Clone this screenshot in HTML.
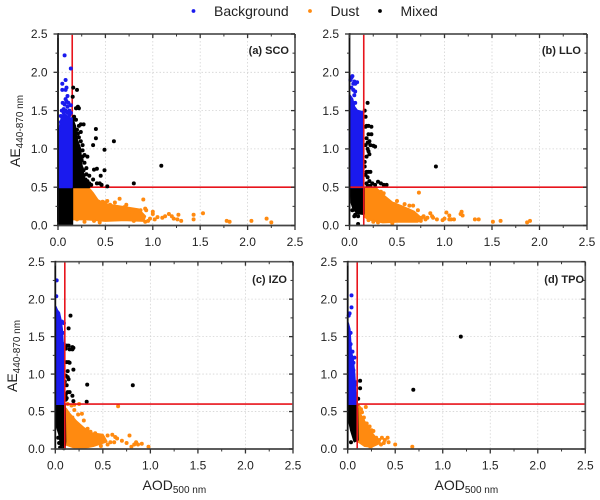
<!DOCTYPE html>
<html>
<head>
<meta charset="utf-8">
<title>AE vs AOD scatter panels</title>
<style>
html,body{margin:0;padding:0;background:#fff;}
#chart{display:block;width:600px;height:500px;font-family:"Liberation Sans",sans-serif;}
</style>
</head>
<body>
<svg id="chart" xmlns="http://www.w3.org/2000/svg" width="600" height="500" viewBox="0 0 600 500">
  <g font-size="14" fill="#222">
    <circle cx="193.5" cy="11" r="1.9" fill="#1a1aee"/>
    <text x="214" y="16">Background</text>
    <circle cx="310" cy="11" r="1.9" fill="#ff8a10"/>
    <text x="330.5" y="16">Dust</text>
    <circle cx="380" cy="11" r="1.9" fill="#000"/>
    <text x="400.5" y="16">Mixed</text>
  </g>
  <text transform="translate(20,167) rotate(-90)" font-size="14" fill="#222">AE<tspan font-size="10" dy="3">440-870 nm</tspan></text>
  <text transform="translate(17,392) rotate(-90)" font-size="14" fill="#222">AE<tspan font-size="10" dy="3">440-870 nm</tspan></text>
  <text x="142.5" y="490" font-size="14" fill="#222">AOD<tspan font-size="10" dy="3">500 nm</tspan></text>
  <text x="434.5" y="490" font-size="14" fill="#222">AOD<tspan font-size="10" dy="3">500 nm</tspan></text>
  <g id="panels"></g>
</svg>
<script>
const tickLabels = ["0.0","0.5","1.0","1.5","2.0","2.5"];
const majorTicks = [0,0.5,1,1.5,2,2.5];
const minorTicks = [0.25,0.75,1.25,1.75,2.25];
const axisMax = 2.5;

const scoThresholds = [0.15,0.5];
const scoBackgroundCloud = [[0.005,0.5],[0.005,1.15],[0.02,1.3],[0.04,1.42],[0.07,1.45],[0.1,1.42],[0.13,1.4],[0.146,1.4],[0.146,0.5]];
const scoBackgroundPoints = [[0.07,2.22],[0.135,2.05],[0.045,1.85],[0.08,1.9],[0.045,1.77],[0.08,1.77],[0.09,1.8],[0.1,1.69],[0.08,1.65],[0.05,1.6],[0.07,1.58],[0.09,1.62],[0.11,1.6],[0.135,1.57],[0.04,1.5],[0.06,1.52],[0.1,1.55],[0.12,1.5],[0.135,1.47],[0.08,1.5],[0.03,1.35],[0.015,1.25],[0.06,1.47],[0.1,1.47],[0.03,1.43],[0.12,1.44]];
const scoMixedCloud = [[0.15,0.5],[0.15,1.4],[0.18,1.3],[0.2,1.12],[0.235,1.0],[0.245,0.82],[0.28,0.6],[0.33,0.5],[0.15,0.5],[0,0.5],[0,0.06],[0.02,0.01],[0.15,0.01]];
const scoMixedPoints = [[0.16,1.8],[0.2,1.77],[0.155,1.68],[0.19,1.53],[0.21,1.55],[0.22,1.53],[0.17,1.42],[0.16,1.38],[0.27,1.32],[0.24,1.32],[0.22,1.3],[0.4,1.26],[0.4,1.14],[0.37,1.05],[0.49,0.99],[0.59,1.1],[1.09,0.78],[0.49,0.72],[0.8,0.55],[0.52,0.51],[0.45,0.65],[0.41,0.74],[0.38,0.73],[0.37,0.6],[0.44,0.55],[0.41,0.55],[0.46,0.53],[0.33,0.65],[0.31,0.9],[0.28,0.92],[0.25,0.75],[0.3,0.75],[0.33,0.55],[0.3,0.67],[0.27,0.72],[0.24,1.1],[0.21,1.2],[0.22,1.15],[0.26,1.05],[0.26,0.98],[0.25,0.85],[0.29,0.6],[0.35,0.53],[0.24,1.22],[0.2,1.25],[0.19,1.38],[0.28,0.82],[0.27,0.65],[0.31,0.58],[0.26,0.9]];
const scoDustCloud = [[0.155,0.49],[0.33,0.48],[0.37,0.42],[0.42,0.33],[0.5,0.28],[0.7,0.24],[0.85,0.21],[0.92,0.12],[0.9,0.06],[0.7,0.07],[0.5,0.06],[0.3,0.08],[0.155,0.08]];
const scoDustPoints = [[1.43,0.14],[1.43,0.08],[1.53,0.16],[1.78,0.06],[1.81,0.05],[2.04,0.06],[2.2,0.09],[2.25,0.04],[1.3,0.06],[1.27,0.14],[1.26,0.08],[1.2,0.12],[1.17,0.15],[1.13,0.12],[1.1,0.1],[1.05,0.11],[1.0,0.18],[1.0,0.15],[1.02,0.08],[0.97,0.09],[0.93,0.2],[0.92,0.22],[0.9,0.34],[0.95,0.06],[0.92,0.05],[0.88,0.1],[0.87,0.2],[0.84,0.17],[0.82,0.2],[0.78,0.14],[0.75,0.2],[0.72,0.27],[0.65,0.35],[0.6,0.3],[0.62,0.24],[0.55,0.27],[0.52,0.32],[0.5,0.3],[0.47,0.31],[0.7,0.24],[0.44,0.04],[0.28,0.05],[0.38,0.06],[0.2,0.08],[1.22,0.09],[0.8,0.06],[0.9,0.1],[0.78,0.08]];

const lloThresholds = [0.15,0.5];
const lloBackgroundCloud = [[0.003,0.5],[0.003,1.7],[0.03,1.65],[0.05,1.55],[0.08,1.5],[0.14,1.48],[0.146,1.45],[0.146,0.5]];
const lloBackgroundPoints = [[0.02,1.93],[0.03,1.95],[0.01,1.9],[0.04,1.85],[0.05,1.88],[0.08,1.87],[0.06,1.85],[0.04,1.77],[0.06,1.75],[0.05,1.7],[0.02,1.8],[0.06,1.6]];
const lloMixedCloud = [[0.01,0.5],[0.15,0.5],[0.15,0.15],[0.08,0.16],[0.04,0.22],[0.02,0.3]];
const lloMixedPoints = [[0.16,1.5],[0.19,1.6],[0.17,1.42],[0.18,1.3],[0.17,1.29],[0.23,1.29],[0.2,1.3],[0.2,1.19],[0.23,1.19],[0.18,1.14],[0.21,1.1],[0.22,1.05],[0.25,1.04],[0.27,1.03],[0.19,1.0],[0.2,0.97],[0.18,0.9],[0.16,0.83],[0.16,0.77],[0.18,0.7],[0.2,0.7],[0.22,0.7],[0.19,0.63],[0.21,0.58],[0.18,0.55],[0.24,0.55],[0.3,0.57],[0.33,0.55],[0.36,0.53],[0.39,0.53],[0.27,0.53],[0.91,0.77],[0.19,1.08],[0.21,0.93],[0.17,1.05],[0.17,0.66],[0.19,0.52],[0.22,0.52],[0.09,0.02],[0.06,0.14],[0.03,0.2],[0.05,0.12],[0.09,0.12]];
const lloDustCloud = [[0.155,0.49],[0.28,0.49],[0.33,0.42],[0.45,0.3],[0.55,0.25],[0.68,0.18],[0.75,0.1],[0.72,0.05],[0.5,0.05],[0.35,0.04],[0.2,0.08],[0.155,0.12]];
const lloDustPoints = [[0.73,0.43],[1.9,0.06],[1.87,0.04],[1.59,0.06],[1.51,0.05],[1.36,0.08],[1.32,0.08],[1.18,0.18],[1.17,0.15],[1.19,0.13],[1.1,0.08],[1.07,0.08],[1.05,0.13],[1.02,0.17],[1.0,0.09],[0.98,0.07],[0.92,0.08],[0.88,0.1],[0.87,0.12],[0.85,0.16],[0.78,0.12],[0.76,0.1],[0.75,0.06],[0.7,0.08],[0.72,0.2],[0.67,0.26],[0.63,0.26],[0.58,0.28],[0.5,0.32],[0.47,0.28],[0.4,0.33],[0.35,0.4],[0.33,0.44],[0.36,0.42],[0.62,0.2],[0.8,0.08],[0.3,0.04],[0.25,0.05],[0.2,0.07],[0.45,0.03],[0.38,0.06],[1.05,0.08],[0.82,0.1]];

const izoThresholds = [0.1,0.6];
const izoBackgroundCloud = [[0.003,0.6],[0.003,1.9],[0.02,1.85],[0.04,1.82],[0.06,1.7],[0.07,1.6],[0.08,1.4],[0.095,1.3],[0.095,0.6]];
const izoBackgroundPoints = [[0.015,2.25],[0.01,2.04],[0.09,1.68],[0.07,1.7],[0.08,1.55],[0.09,1.4]];
const izoMixedCloud = [[0.003,0.6],[0.1,0.6],[0.105,0.1],[0.1,0.03],[0.06,0.05],[0.04,0.2],[0.015,0.3]];
const izoMixedPoints = [[0.16,1.78],[0.14,1.61],[0.12,1.38],[0.14,1.38],[0.11,1.34],[0.15,1.33],[0.18,1.36],[0.18,1.33],[0.19,1.35],[0.12,1.16],[0.14,1.16],[0.15,1.15],[0.19,1.06],[0.13,1.04],[0.11,0.98],[0.13,0.96],[0.14,0.93],[0.335,0.86],[0.815,0.85],[0.12,0.85],[0.13,0.76],[0.15,0.76],[0.11,0.73],[0.18,0.71],[0.12,0.68],[0.19,0.64],[0.33,0.63],[0.1,0.9],[0.105,0.7],[0.11,0.66],[0.04,0.08],[0.05,0.02],[0.09,0.01],[0.03,0.15],[0.07,0.1]];
const izoDustCloud = [[0.11,0.54],[0.15,0.47],[0.22,0.37],[0.3,0.28],[0.38,0.21],[0.5,0.19],[0.54,0.1],[0.4,0.04],[0.28,0.01],[0.2,0.02],[0.11,0.06]];
const izoDustPoints = [[0.66,0.57],[0.13,0.6],[0.17,0.58],[0.2,0.59],[0.25,0.6],[0.2,0.52],[0.24,0.46],[0.28,0.47],[0.18,0.42],[0.3,0.38],[0.34,0.27],[0.55,0.18],[0.6,0.19],[0.63,0.16],[0.62,0.09],[0.65,0.14],[0.7,0.11],[0.78,0.18],[0.75,0.08],[0.8,0.03],[0.83,0.06],[0.85,0.09],[0.87,0.06],[0.91,0.07],[0.98,0.03],[0.58,0.09],[0.55,0.06],[0.48,0.04],[0.42,0.21],[0.37,0.23]];

const tpoThresholds = [0.1,0.6];
const tpoBackgroundCloud = [[0.003,0.6],[0.003,1.68],[0.02,1.6],[0.035,1.3],[0.055,1.2],[0.07,1.0],[0.08,0.8],[0.085,0.6]];
const tpoBackgroundPoints = [[0.04,2.05],[0.04,1.89],[0.02,1.81],[0.01,1.78],[0.03,1.55],[0.05,1.3],[0.07,1.22],[0.06,1.15],[0.06,1.05],[0.09,0.89],[0.08,0.86],[0.07,0.75],[0.08,0.72],[0.03,1.4]];
const tpoMixedCloud = [[0.01,0.6],[0.08,0.6],[0.1,0.55],[0.105,0.12],[0.07,0.1],[0.035,0.25],[0.01,0.4]];
const tpoMixedPoints = [[1.19,1.5],[0.69,0.79],[0.13,0.91],[0.13,0.81],[0.11,0.67],[0.035,0.09],[0.02,0.55],[0.09,0.58]];
const tpoDustCloud = [[0.11,0.52],[0.15,0.42],[0.2,0.32],[0.25,0.22],[0.3,0.14],[0.34,0.08],[0.25,0.03],[0.18,0.04],[0.11,0.1]];
const tpoDustPoints = [[0.19,0.56],[0.14,0.53],[0.12,0.55],[0.11,0.57],[0.15,0.49],[0.17,0.42],[0.16,0.38],[0.2,0.34],[0.23,0.3],[0.27,0.24],[0.25,0.25],[0.22,0.22],[0.3,0.15],[0.33,0.12],[0.36,0.15],[0.42,0.15],[0.39,0.12],[0.38,0.08],[0.43,0.09],[0.5,0.06],[0.68,0.03],[0.32,0.1],[0.35,0.06],[0.24,0.02],[0.26,0.18]];

const NS = "http://www.w3.org/2000/svg";
const BLUE = "#1a1aee", ORANGE = "#ff8a10", BLACK = "#000";
const panelDefs = [
  {id:"sco",label:"(a) SCO",left:58,right:295,top:34,bottom:225.5,labelRight:289,labelY:54,linesOnTop:false,th:scoThresholds,bc:scoBackgroundCloud,bp:scoBackgroundPoints,mc:scoMixedCloud,mp:scoMixedPoints,dc:scoDustCloud,dp:scoDustPoints},
  {id:"llo",label:"(b) LLO",left:349.5,right:587,top:34,bottom:225.5,labelRight:581,labelY:54,linesOnTop:true,th:lloThresholds,bc:lloBackgroundCloud,bp:lloBackgroundPoints,mc:lloMixedCloud,mp:lloMixedPoints,dc:lloDustCloud,dp:lloDustPoints},
  {id:"izo",label:"(c) IZO",left:55.3,right:293,top:261.7,bottom:449,labelRight:287,labelY:283,linesOnTop:true,th:izoThresholds,bc:izoBackgroundCloud,bp:izoBackgroundPoints,mc:izoMixedCloud,mp:izoMixedPoints,dc:izoDustCloud,dp:izoDustPoints},
  {id:"tpo",label:"(d) TPO",left:347.7,right:585.3,top:261.7,bottom:449,labelRight:584,labelY:283,linesOnTop:true,th:tpoThresholds,bc:tpoBackgroundCloud,bp:tpoBackgroundPoints,mc:tpoMixedCloud,mp:tpoMixedPoints,dc:tpoDustCloud,dp:tpoDustPoints}
];

function mk(parent, tag, name) {
  const el = document.createElementNS(NS, tag);
  
  
  parent.appendChild(el);
  return el;
}
function line(parent, name, x1, y1, x2, y2, stroke, width, dash) {
  const el = mk(parent, 'line', name);
  el.setAttribute('x1', x1); el.setAttribute('y1', y1);
  el.setAttribute('x2', x2); el.setAttribute('y2', y2);
  el.setAttribute('stroke', stroke); el.setAttribute('stroke-width', width);
  if (dash) el.setAttribute('stroke-dasharray', dash);
  return el;
}
function text(parent, name, x, y, str, size, anchor, weight) {
  const el = mk(parent, 'text', name);
  el.setAttribute('x', x); el.setAttribute('y', y);
  el.setAttribute('font-size', size); el.setAttribute('fill', '#222');
  el.setAttribute('text-anchor', anchor);
  if (weight) el.setAttribute('font-weight', weight);
  el.textContent = str;
  return el;
}

const root = document.getElementById('panels');
panelDefs.forEach(function (p) {
  const sx = function (v) { return p.left + (v / axisMax) * (p.right - p.left); };
  const sy = function (v) { return p.bottom - (v / axisMax) * (p.bottom - p.top); };
  const g = mk(root, 'g', 'panel-' + p.id);

  majorTicks.slice(1, -1).forEach(function (t) {
    line(g, 'grid-vertical', sx(t), p.top, sx(t), p.bottom, '#d4d4d4', 0.8, '1.5 2');
    line(g, 'grid-horizontal', p.left, sy(t), p.right, sy(t), '#d4d4d4', 0.8, '1.5 2');
  });

  function drawThresholds() {
    line(g, 'threshold-aod', sx(p.th[0]), p.top, sx(p.th[0]), p.bottom, '#e8141c', 1.6);
    line(g, 'threshold-ae', p.id === 'llo' ? p.left : sx(p.th[0]), sy(p.th[1]), p.right, sy(p.th[1]), '#e8141c', 1.6);
  }
  if (!p.linesOnTop) drawThresholds();

  function drawSeries(name, cloud, points, color) {
    const s = mk(g, 'g', 'series-' + name);
    s.setAttribute('fill', color);
    const poly = mk(s, 'polygon', name + '-dense-cloud');
    poly.setAttribute('points', cloud.map(function (d) { return sx(d[0]).toFixed(1) + ',' + sy(d[1]).toFixed(1); }).join(' '));
    poly.setAttribute('stroke', color);
    poly.setAttribute('stroke-width', '2');
    poly.setAttribute('stroke-linejoin', 'round');
    points.forEach(function (d) {
      const c = mk(s, 'circle', name + '-point');
      c.setAttribute('cx', sx(d[0]).toFixed(1));
      c.setAttribute('cy', sy(d[1]).toFixed(1));
      c.setAttribute('r', '2');
    });
  }
  drawSeries('dust', p.dc, p.dp, ORANGE);
  drawSeries('mixed', p.mc, p.mp, BLACK);
  drawSeries('background', p.bc, p.bp, BLUE);

  if (p.linesOnTop) drawThresholds();

  const AX = '#333';
  line(g, 'axis-top', p.left, p.top, p.right, p.top, '#555', 1.7);
  line(g, 'axis-right', p.right, p.top, p.right, p.bottom, '#555', 1.7);
  line(g, 'axis-left', p.left, p.top - 0.8, p.left, p.bottom + 0.8, '#111', 1.8);
  line(g, 'axis-bottom', p.left, p.bottom, p.right, p.bottom, '#444', 1.8);

  majorTicks.forEach(function (t, i) {
    line(g, 'x-tick', sx(t), p.bottom, sx(t), p.bottom + 4.5, AX, 1.3);
    line(g, 'x-tick-top', sx(t), p.top, sx(t), p.top + 4, AX, 1.3);
    line(g, 'y-tick', p.left - 4.5, sy(t), p.left, sy(t), AX, 1.3);
    line(g, 'y-tick-right', p.right - 4, sy(t), p.right, sy(t), AX, 1.3);
    text(g, 'x-tick-label', sx(t), p.bottom + 20.5, tickLabels[i], 12, 'middle');
    text(g, 'y-tick-label', p.left - 10.5, sy(t) + 4.2, tickLabels[i], 12, 'end');
  });
  minorTicks.forEach(function (t) {
    line(g, 'x-minor-tick', sx(t), p.bottom, sx(t), p.bottom + 2.5, AX, 1);
    line(g, 'x-minor-tick-top', sx(t), p.top, sx(t), p.top + 2.5, AX, 1);
    line(g, 'y-minor-tick', p.left - 2.5, sy(t), p.left, sy(t), AX, 1);
    line(g, 'y-minor-tick-right', p.right - 2.5, sy(t), p.right, sy(t), AX, 1);
  });

  text(g, 'panel-label', p.labelRight, p.labelY, p.label, 11, 'end', 'bold');
});
</script>
</body>
</html>
